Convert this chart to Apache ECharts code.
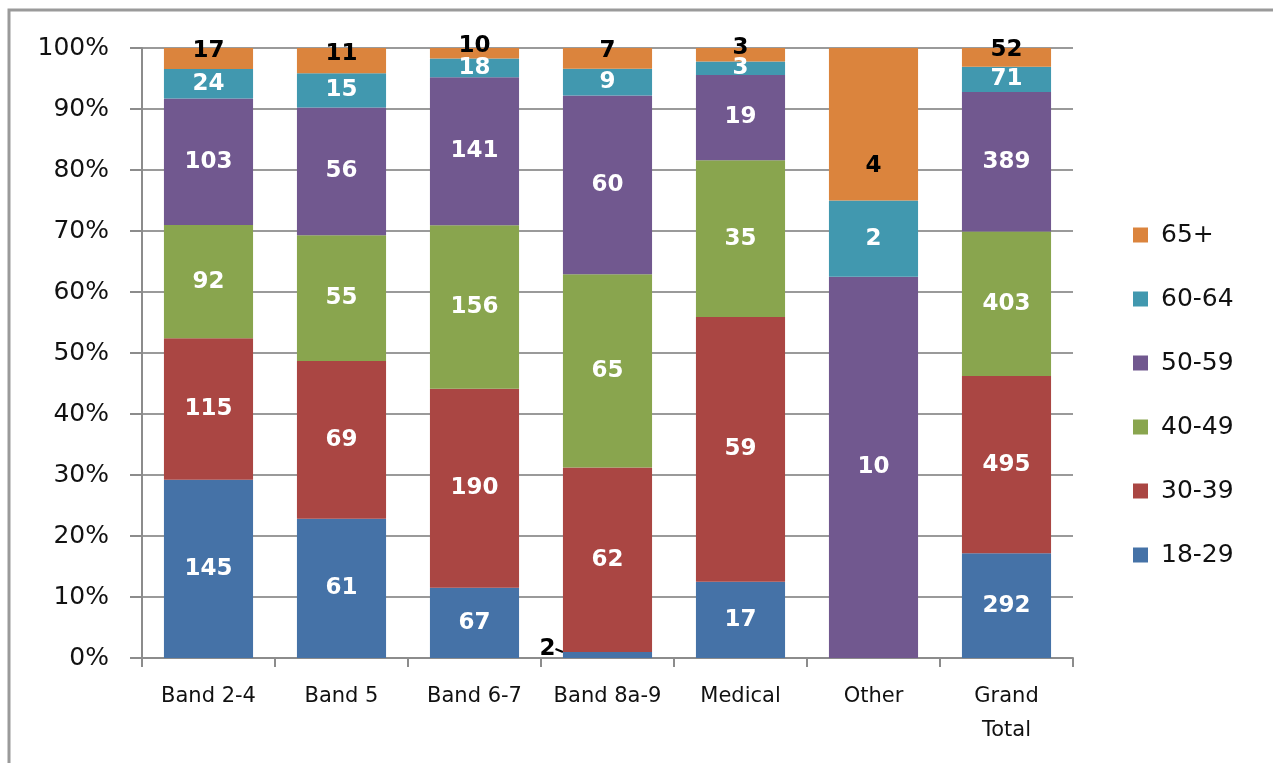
<!DOCTYPE html>
<html>
<head>
    <meta charset="utf-8">
    <title>Age profile by band</title>
    <script src="https://cdn.jsdelivr.net/npm/echarts@6/dist/echarts.min.js"></script>
    <style>
        html, body { margin: 0; padding: 0; background: #fff; }
        #main { width: 1273px; height: 763px; }
    </style>
</head>
<body>
    <div id="main"></div>
    <script type="text/javascript">
        // categories and counts per age group
        var categories = ['Band 2-4', 'Band 5', 'Band 6-7', 'Band 8a-9', 'Medical', 'Other', 'Grand\nTotal'];
        var ageGroups = ['18-29', '30-39', '40-49', '50-59', '60-64', '65+'];
        var age18_29 = [145, 61, 67, 2, 17, 0, 292];
        var age30_39 = [115, 69, 190, 62, 59, 0, 495];
        var age40_49 = [92, 55, 156, 65, 35, 0, 403];
        var age50_59 = [103, 56, 141, 60, 19, 10, 389];
        var age60_64 = [24, 15, 18, 9, 3, 2, 71];
        var age65plus = [17, 11, 10, 7, 3, 4, 52];
        var yTicks = [0, 10, 20, 30, 40, 50, 60, 70, 80, 90, 100];

        var colors = ['#4572A7', '#AA4643', '#89A54E', '#71588F', '#4198AF', '#DB843D'];
        var allSeries = [age18_29, age30_39, age40_49, age50_59, age60_64, age65plus];

        var totals = categories.map(function (c, i) {
            var t = 0;
            allSeries.forEach(function (s) { t += s[i]; });
            return t;
        });

        var series = allSeries.map(function (vals, si) {
            var isTop = si === 5;
            var data = vals.map(function (v, i) {
                var item = { value: v / totals[i] * 100, count: v };
                if (si === 0 && v === 2) {
                    // tiny slice: label pulled out with a leader line
                    item.label = { color: '#000' };
                    item.labelLine = { show: true, lineStyle: { color: '#000', width: 2 } };
                }
                if (isTop && categories[i] === 'Other') {
                    item.label = { offset: [0, 42] };
                }
                return item;
            });
            return {
                name: ageGroups[si],
                type: 'bar',
                stack: 'age',
                barCategoryGap: '33%',
                itemStyle: { color: colors[si] },
                label: {
                    show: true,
                    position: 'inside',
                    offset: isTop ? [0, -7] : [0, 0],
                    color: isTop ? '#000' : '#fff',
                    fontFamily: 'DejaVu Sans',
                    fontWeight: 'bold',
                    fontSize: 23,
                    formatter: function (p) {
                        return p.data.count === 0 ? '' : String(p.data.count);
                    }
                },
                labelLayout: si === 0 ? function (p) {
                    if (p.dataIndex === 3) return { dx: -60, dy: -6 };
                    return {};
                } : undefined,
                emphasis: { disabled: true },
                data: data
            };
        });

        var myChart = echarts.init(document.getElementById('main'));
        var option = {
            animation: false,
            backgroundColor: '#fff',
            textStyle: { fontFamily: 'DejaVu Sans' },
            graphic: [{
                type: 'rect',
                shape: { x: 9, y: 10, width: 1300, height: 800 },
                style: { fill: 'none', stroke: '#9a9a9a', lineWidth: 3 },
                silent: true
            }],
            grid: { left: 142, right: 200, top: 48, bottom: 105 },
            legend: {
                orient: 'vertical',
                left: 1128,
                top: 217,
                itemWidth: 15,
                itemHeight: 15,
                itemGap: 38,
                icon: 'rect',
                data: ageGroups.slice().reverse(),
                textStyle: { fontSize: 25, color: '#111', lineHeight: 26, padding: [0, 0, 0, 8], fontFamily: 'DejaVu Sans' }
            },
            xAxis: {
                type: 'category',
                data: categories,
                axisLine: { lineStyle: { color: '#8c8c8c', width: 2 } },
                axisTick: { show: true, length: 9, interval: 0, lineStyle: { color: '#8c8c8c', width: 2 } },
                axisLabel: { color: '#111', fontSize: 21, margin: 22, lineHeight: 34, interval: 0 }
            },
            yAxis: {
                type: 'value',
                min: yTicks[0],
                max: yTicks[yTicks.length - 1],
                interval: 10,
                axisLine: { show: true, lineStyle: { color: '#8c8c8c', width: 2 } },
                axisTick: { show: true, length: 12, lineStyle: { color: '#8c8c8c', width: 2 } },
                splitLine: { lineStyle: { color: '#9a9a9a', width: 2 } },
                axisLabel: { color: '#111', fontSize: 25, margin: 33, formatter: '{value}%' }
            },
            series: series
        };
        myChart.setOption(option);
    </script>
</body>
</html>
